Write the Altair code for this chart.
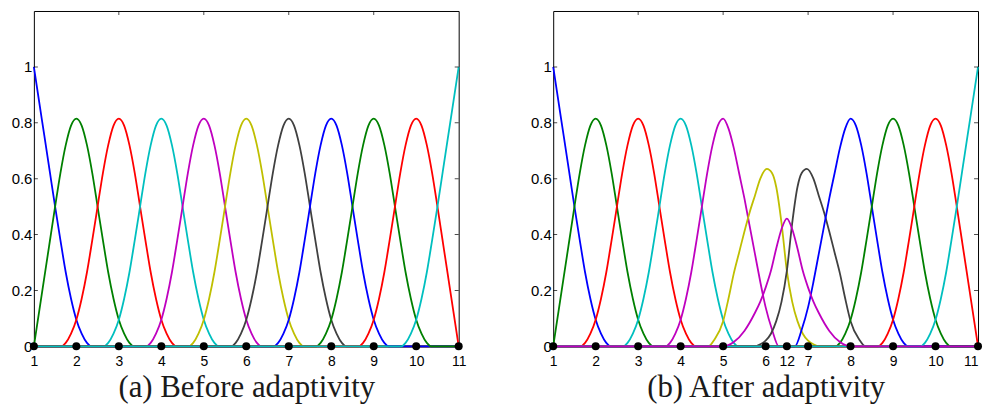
import altair as alt
import pandas as pd

X_MIN, X_MAX = 1, 11
Y_MAX = 1.2

# MATLAB default line colour order
c_b, c_g, c_r, c_c, c_m, c_y, c_k = "#0000FF", "#008000", "#FF0000", "#00BFBF", "#BF00BF", "#BFBF00", "#404040"

# ---- values ----
# interior basis function (offset from its node, value)
interior_offset = [-1.35, -1.25, -1.125, -1.0, -0.875, -0.75, -0.625, -0.5, -0.375, -0.25, -0.125, 0.0,
                   0.125, 0.25, 0.375, 0.5, 0.625, 0.75, 0.875, 1.0, 1.125, 1.25, 1.35]
interior_value = [0.0, 0.012, 0.045, 0.095, 0.17, 0.265, 0.38, 0.5, 0.62, 0.72, 0.79, 0.815,
                  0.79, 0.72, 0.62, 0.5, 0.38, 0.265, 0.17, 0.095, 0.045, 0.012, 0.0]

# node 1 (left boundary)
n1_x = [1.0, 1.125, 1.25, 1.375, 1.5, 1.625, 1.75, 1.875, 2.0, 2.125, 2.25, 2.35]
n1_y = [1.0, 0.875, 0.75, 0.625, 0.5, 0.38, 0.265, 0.17, 0.095, 0.045, 0.012, 0.0]
# node 2
n2_x = [1.0, 1.125, 1.25, 1.375, 1.5, 1.625, 1.75, 1.875, 2.0, 2.125, 2.25, 2.375, 2.5, 2.625,
        2.75, 2.875, 3.0, 3.125, 3.25, 3.35]
n2_y = [0.0, 0.125, 0.25, 0.375, 0.5, 0.62, 0.72, 0.79, 0.815, 0.79, 0.72, 0.62, 0.5, 0.38,
        0.265, 0.17, 0.095, 0.045, 0.012, 0.0]
# node 10
n10_x = [8.65, 8.75, 8.875, 9.0, 9.125, 9.25, 9.375, 9.5, 9.625, 9.75, 9.875, 10.0, 10.125, 10.25,
         10.375, 10.5, 10.625, 10.75, 10.875, 11.0]
n10_y = [0.0, 0.012, 0.045, 0.095, 0.17, 0.265, 0.38, 0.5, 0.62, 0.72, 0.79, 0.815, 0.79, 0.72,
         0.62, 0.5, 0.375, 0.25, 0.125, 0.0]
# node 11 (right boundary)
n11_x = [9.65, 9.75, 9.875, 10.0, 10.125, 10.25, 10.375, 10.5, 10.625, 10.75, 10.875, 11.0]
n11_y = [0.0, 0.012, 0.045, 0.095, 0.17, 0.265, 0.38, 0.5, 0.625, 0.75, 0.875, 1.0]

# after adaptivity: modified functions around the new node 12 (at x = 6.5)
a5_x = [3.65, 3.75, 3.875, 4.0, 4.125, 4.25, 4.375, 4.5, 4.625, 4.75, 4.875, 5.0, 5.125, 5.25,
        5.375, 5.5, 5.625, 5.75, 5.875, 6.0, 6.15, 6.31]
a5_y = [0.0, 0.012, 0.045, 0.095, 0.17, 0.265, 0.38, 0.5, 0.62, 0.72, 0.79, 0.815, 0.78, 0.71,
        0.62, 0.53, 0.43, 0.33, 0.23, 0.14, 0.06, 0.0]
a6_x = [4.65, 4.8, 5.0, 5.125, 5.25, 5.375, 5.5, 5.625, 5.75, 5.875, 6.03, 6.15, 6.25, 6.375,
        6.5, 6.625, 6.75, 6.875, 7.0, 7.125, 7.27]
a6_y = [0.0, 0.025, 0.09, 0.17, 0.26, 0.335, 0.41, 0.48, 0.54, 0.60, 0.635, 0.62, 0.57, 0.44,
        0.27, 0.16, 0.09, 0.045, 0.02, 0.007, 0.0]
a7_x = [5.73, 5.875, 6.0, 6.125, 6.25, 6.375, 6.5, 6.625, 6.75, 6.85, 6.97, 7.125, 7.25, 7.375,
        7.5, 7.625, 7.75, 7.875, 8.0, 8.2, 8.35]
a7_y = [0.0, 0.007, 0.02, 0.045, 0.09, 0.16, 0.27, 0.44, 0.57, 0.62, 0.635, 0.60, 0.54, 0.48,
        0.41, 0.335, 0.26, 0.17, 0.09, 0.025, 0.0]
a8_x = [6.69, 6.85, 7.0, 7.125, 7.25, 7.375, 7.5, 7.625, 7.75, 7.875, 8.0, 8.125, 8.25, 8.375,
        8.5, 8.625, 8.75, 8.875, 9.0, 9.125, 9.25, 9.35]
a8_y = [0.0, 0.06, 0.14, 0.23, 0.33, 0.43, 0.53, 0.62, 0.71, 0.78, 0.815, 0.79, 0.72, 0.62,
        0.5, 0.38, 0.265, 0.17, 0.095, 0.045, 0.012, 0.0]
a12_x = [5.0, 5.25, 5.5, 5.75, 5.875, 6.0, 6.125, 6.25, 6.375, 6.5, 6.625, 6.75, 6.875, 7.0,
         7.125, 7.25, 7.5, 7.75, 8.0]
a12_y = [0.0, 0.015, 0.055, 0.12, 0.16, 0.21, 0.27, 0.35, 0.42, 0.457, 0.42, 0.35, 0.27, 0.21,
         0.16, 0.12, 0.055, 0.015, 0.0]

nodes_before = [1, 2, 3, 4, 5, 6, 7, 8, 9, 10, 11]
nodes_after = [1, 2, 3, 4, 5, 6, 6.5, 7, 8, 9, 10, 11]
labels_before = ["1", "2", "3", "4", "5", "6", "7", "8", "9", "10", "11"]
labels_after = ["1", "2", "3", "4", "5", "6", "12", "7", "8", "9", "10", "11"]
y_ticks = [0, 0.2, 0.4, 0.6, 0.8, 1.0]
top_ticks = [3, 5, 7, 9]
caption_a = "(a) Before adaptivity"
caption_b = "(b) After adaptivity"


def shifted(node):
    return [node + o for o in interior_offset], list(interior_value)


curves_before = [
    (n1_x, n1_y, c_b), (n2_x, n2_y, c_g),
    (*shifted(3), c_r), (*shifted(4), c_c), (*shifted(5), c_m), (*shifted(6), c_y),
    (*shifted(7), c_k), (*shifted(8), c_b), (*shifted(9), c_g),
    (n10_x, n10_y, c_r), (n11_x, n11_y, c_c),
]
curves_after = [
    (n1_x, n1_y, c_b), (n2_x, n2_y, c_g),
    (*shifted(3), c_r), (*shifted(4), c_c), (a5_x, a5_y, c_m), (a6_x, a6_y, c_y),
    (a7_x, a7_y, c_k), (a8_x, a8_y, c_b), (*shifted(9), c_g),
    (n10_x, n10_y, c_r), (n11_x, n11_y, c_c), (a12_x, a12_y, c_m),
]


def label_expr(values, labels):
    expr = "datum.label"
    for v, lab in zip(values, labels):
        expr = f"datum.value == {v} ? '{lab}' : ({expr})"
    return expr


def panel(curves, nodes, labels, caption, flush_last):
    xs = alt.Scale(domain=[X_MIN, X_MAX], nice=False, zero=False)
    ys = alt.Scale(domain=[0, Y_MAX], nice=False)
    align = ({"condition": {"test": f"datum.value == {X_MAX}", "value": "right"}, "value": "center"}
             if flush_last else "center")
    xaxis = alt.Axis(values=nodes, labelExpr=label_expr(nodes, labels), ticks=False, tickSize=0,
                     domain=False, grid=False, labelOverlap=False, labelFlush=False,
                     labelSeparation=0, labelBound=False, labelAlign=align,
                     labelFont="Liberation Sans", labelFontSize=14, labelColor="black",
                     labelPadding=8, title=caption, titleFont="Liberation Serif",
                     titleFontSize=31, titleFontWeight="normal", titleColor="#1a1a1a",
                     titlePadding=4)
    yaxis = alt.Axis(values=y_ticks, format="~g", ticks=False, tickSize=0, domain=False,
                     grid=False, labelOverlap=False, labelFont="Liberation Sans",
                     labelFontSize=15, labelColor="black", labelPadding=2, title=None,
                     minExtent=25)
    X = lambda: alt.X("x:Q", scale=xs, axis=xaxis)
    Y = lambda: alt.Y("y:Q", scale=ys, axis=yaxis)
    layers = []
    for cx, cy, col in curves:
        px, py = list(cx), list(cy)
        if px[0] > X_MIN:
            px, py = [X_MIN] + px, [0.0] + py
        if px[-1] < X_MAX:
            px, py = px + [X_MAX], py + [0.0]
        df = pd.DataFrame({"x": px, "y": py})
        layers.append(
            alt.Chart(df).mark_line(color=col, strokeWidth=1.8, interpolate="monotone").encode(
                x=X(), y=Y())
        )
    # inward box ticks (left / right edges), clipped to the plot area
    side_df = pd.DataFrame({"x": [X_MIN] * len(y_ticks) + [X_MAX] * len(y_ticks),
                            "y": y_ticks + y_ticks})
    layers.append(
        alt.Chart(side_df).mark_tick(orient="horizontal", size=8, thickness=1, color="black",
                                     clip=True).encode(x=X(), y=Y())
    )
    top_df = pd.DataFrame({"x": top_ticks, "y": [Y_MAX] * len(top_ticks)})
    layers.append(
        alt.Chart(top_df).mark_tick(orient="vertical", size=8, thickness=1, color="black",
                                    clip=True).encode(x=X(), y=Y())
    )
    dot_df = pd.DataFrame({"x": nodes, "y": [0.0] * len(nodes)})
    layers.append(
        alt.Chart(dot_df).mark_point(filled=True, shape="circle", size=64, color="black",
                                     opacity=1).encode(x=X(), y=Y())
    )
    return alt.layer(*layers).properties(width=427, height=337)


left = panel(curves_before, nodes_before, labels_before, caption_a, False)
right = panel(curves_after, nodes_after, labels_after, caption_b, True)

chart = alt.hconcat(left, right, spacing=95, bounds="flush").properties(
    padding={"left": 0, "top": 1, "right": 0, "bottom": 0}
).configure_view(stroke="black", strokeWidth=1).configure_axis(labelOverlap=False)

chart.save("out.html", embed_options={"renderer": "svg", "actions": False})
